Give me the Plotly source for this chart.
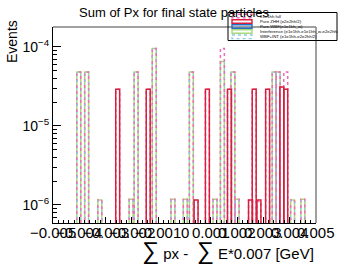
import plotly.graph_objects as go

# ---------------- data ----------------
bin_width = 0.00015

total_x = [-0.00402, -0.00372, -0.00322, -0.00254, -0.00203, -0.00184, -0.00138, -0.00115,
           -0.00044, 0.00003, 0.00026, 0.00044, 0.00087, 0.00116, 0.00144, 0.00171,
           0.00184, 0.00200, 0.00251, 0.00265, 0.00283, 0.00316, 0.00341, 0.00356,
           0.00370, 0.00385, 0.00411, 0.00450]
total_y = [4.8e-5, 4.8e-5, 1.15e-6, 2.9e-5, 1.18e-6, 4.8e-5, 2.9e-5, 9.5e-5,
           1.18e-6, 1.18e-6, 4.8e-5, 1.15e-6, 2.9e-5, 1.18e-6, 9.5e-5, 2.9e-5,
           4.8e-5, 1.18e-6, 1.15e-6, 2.9e-5, 1.1e-6, 2.9e-5, 4.8e-5, 4.8e-5,
           3.1e-5, 4.8e-5, 1.15e-6, 1.18e-6]

zhh_x = [-0.00254, -0.00138, 0.00044, 0.00087, 0.00171, 0.00251, 0.00265, 0.00283,
         0.00316, 0.00370, 0.00385]
zhh_y = [2.9e-5, 2.9e-5, 1.15e-6, 2.9e-5, 2.9e-5, 1.15e-6, 2.9e-5, 1.15e-6,
         2.9e-5, 3.1e-5, 2.9e-5]

int_x = [-0.00402, -0.00372, -0.00322, -0.00203, -0.00184, -0.00115, -0.00044, 0.00003,
         0.00026, 0.00116, 0.00144, 0.00184, 0.00200, 0.00341, 0.00356, 0.00411, 0.00450]
int_y = [4.8e-5, 4.8e-5, 1.15e-6, 1.18e-6, 4.8e-5, 9.5e-5, 1.18e-6, 1.18e-6,
         4.8e-5, 1.18e-6, 6.5e-5, 4.8e-5, 1.18e-6, 4.8e-5, 4.8e-5, 1.15e-6, 1.18e-6]

wbfint_x = int_x
wbfint_y = int_y

x_ticks = [-0.005, -0.004, -0.003, -0.002, -0.001, 0.0, 0.001, 0.002, 0.003, 0.004, 0.005]
x_tick_labels = ["\u22120.005", "\u22120.004", "\u22120.003", "\u22120.002", "\u22120.001", "0",
                 "0.001", "0.002", "0.003", "0.004", "0.005"]
y_ticks = [1e-6, 1e-5, 1e-4]
y_tick_labels = ["10<sup>\u22126</sup>", "10<sup>\u22125</sup>", "10<sup>\u22124</sup>"]

legend_labels = ["e1e1hh full", "Pure ZHH (e2e2hh/2)", "Pure WBF(e1e1hh_w)",
                 "Interference (e1e1hh-e1e1hh_w-e2e2hh/2)", "WBF+INT (e1e1hh-e2e2hh/2)"]

# ---------------- helpers ----------------
FLOOR = 1e-9


def steps(centers, heights, w):
    xs, ys = [], []
    for c, h in zip(centers, heights):
        l, r = c - w / 2, c + w / 2
        xs += [l, l, r, r, None]
        ys += [FLOOR, h, h, FLOOR, None]
    return xs, ys


C_TOT = "#f06ab8"
C_ZHH = "#d81e3c"
C_WBF = "#1f6fc4"
C_INT = "#a9d77a"
C_WI = "#8ccbe8"

fig = go.Figure()

x, y = steps(int_x, int_y, bin_width)
fig.add_trace(go.Scatter(x=x, y=y, mode="lines", line=dict(color=C_INT, width=1.5)))
x, y = steps(total_x, total_y, bin_width)
fig.add_trace(go.Scatter(x=x, y=y, mode="lines", line=dict(color=C_TOT, width=1.5, dash="dot")))
x, y = steps(wbfint_x, wbfint_y, bin_width)
fig.add_trace(go.Scatter(x=x, y=y, mode="lines", line=dict(color=C_WI, width=1.0, dash="2px,6px")))
x, y = steps(zhh_x, zhh_y, bin_width)
fig.add_trace(go.Scatter(x=x, y=y, mode="lines", line=dict(color=C_ZHH, width=1.5)))

FONT = "Liberation Sans, Arial, sans-serif"

minor_y = [m * 10 ** e for e in (-7, -6, -5, -4) for m in range(2, 10)]

fig.update_layout(
    width=338, height=264,
    margin=dict(l=53, r=22, t=27, b=41),
    paper_bgcolor="white", plot_bgcolor="white",
    showlegend=False,
    font=dict(family=FONT, color="black"),
    title=dict(text="Sum of Px for final state particles", x=0.515, xanchor="center",
               y=1 - 12 / 264, yanchor="middle", xref="container", yref="container",
               font=dict(size=13, family=FONT, color="black")),
    xaxis=dict(range=[-0.005, 0.005], tickvals=x_ticks, showticklabels=False,
               ticks="inside", ticklen=6, tickcolor="black", tickwidth=1,
               showline=True, linecolor="black", linewidth=1,
               showgrid=False, zeroline=False,
               minor=dict(ticks="inside", ticklen=3, dtick=0.0002, tick0=-0.005,
                          tickcolor="black", showgrid=False)),
    yaxis=dict(type="log", range=[-6.229, -3.75], tickvals=y_ticks, ticktext=y_tick_labels,
               ticks="inside", ticklen=8, tickcolor="black", tickwidth=1,
               showline=True, linecolor="black", linewidth=1,
               showgrid=False, zeroline=False,
               tickfont=dict(size=14, family=FONT, color="black"),
               minor=dict(ticks="inside", ticklen=4, tickvals=minor_y,
                          tickcolor="black", showgrid=False)),
)

# x tick labels (ROOT style, overlapping, close to the axis)
for xv, lab in zip(x_ticks, x_tick_labels):
    fig.add_annotation(text=lab, xref="x", yref="paper", x=xv, y=0, yshift=-9,
                       xanchor="center", yanchor="middle", showarrow=False,
                       font=dict(size=15, family=FONT, color="black"))

# frame (top and right, gray as in ROOT)
fig.add_shape(type="line", xref="paper", yref="paper", x0=0, x1=1, y0=1, y1=1,
              line=dict(color="#808080", width=1.5))
fig.add_shape(type="line", xref="paper", yref="paper", x0=1, x1=1, y0=0, y1=1,
              line=dict(color="#808080", width=1.5))

PW, PH = 263.0, 196.0


def px(xp):
    return (xp - 53) / PW


def py(yp):
    return (223 - yp) / PH


# axis titles
fig.add_annotation(text="Events", textangle=-90, xref="paper", yref="paper",
                   x=px(12), y=py(42), xanchor="center", yanchor="middle", showarrow=False,
                   font=dict(size=14, family=FONT, color="black"))
fig.add_annotation(
    text="<span style='font-size:24px'>\u2211</span> px -\u00a0 <span style='font-size:24px'>\u2211</span> E*0.007 [GeV]",
    xref="paper", yref="paper", x=px(316), y=py(251), xanchor="right", yanchor="middle",
    showarrow=False, font=dict(size=15, family=FONT, color="black"))

# legend box (drawn manually, ROOT TLegend style)
fig.add_shape(type="rect", xref="paper", yref="paper", x0=px(228), x1=px(337), y0=py(12.5), y1=py(40.5),
              line=dict(color="black", width=1), fillcolor="rgba(0,0,0,0)", layer="above")
leg_styles = [(C_TOT, "dot"), (C_ZHH, "solid"), (C_WBF, "solid"), (C_INT, "solid"), (C_WI, "dot")]
row_y = [16, 21.5, 26.5, 31.5, 36.8]
for (col, dash), ry, lab in zip(leg_styles, row_y, legend_labels):
    fig.add_shape(type="rect", xref="paper", yref="paper", x0=px(232), x1=px(252),
                  y0=py(ry - 1.8), y1=py(ry + 1.8),
                  line=dict(color=col, width=1.4, dash=dash), fillcolor="rgba(0,0,0,0)", layer="above")
    fig.add_annotation(text=lab, xref="paper", yref="paper", x=px(258), y=py(ry),
                       xanchor="left", yanchor="middle", showarrow=False,
                       font=dict(size=4.3, family=FONT, color="black"))

fig.write_html("out.html", config={"displayModeBar": False},
               post_script="document.body.style.margin='0';document.body.style.overflow='hidden';")
